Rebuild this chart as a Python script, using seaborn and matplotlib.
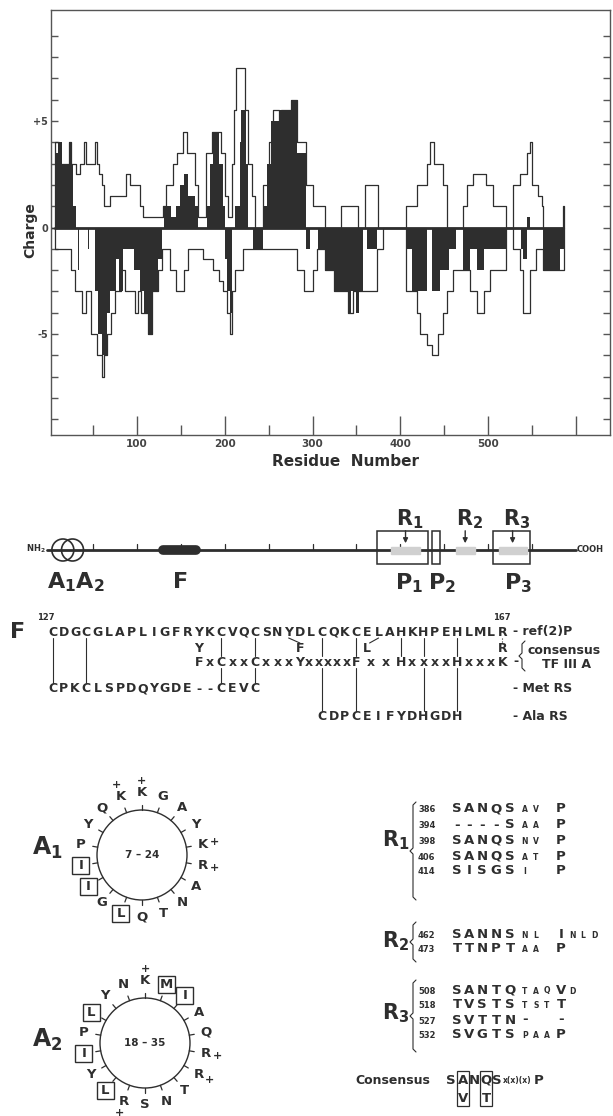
import numpy as np
import matplotlib
matplotlib.use("Agg")
import matplotlib.pyplot as plt
import seaborn as sns
from matplotlib.patches import Rectangle, Ellipse, Circle

sns.set_style("white")
plt.rcParams['font.family'] = ['DejaVu Sans']
plt.rcParams['mathtext.fontset'] = 'dejavusans'

INK = '#2e2e2e'

# charge profile: residue where each step starts, value of the step
pos_res = [0, 7, 11, 23, 25, 31, 35, 40, 42, 52, 54, 57, 60, 62, 69, 88, 92, 103, 107, 130,
           133, 141, 146, 152, 157, 166, 170, 179, 185, 196, 200, 204, 208, 211, 213, 223, 227, 231, 234, 244,
           250, 255, 262, 264, 276, 282, 293, 301, 314, 333, 352, 360, 375, 407, 419, 430, 434, 438, 449, 453,
           472, 476, 483, 498, 506, 521, 529, 536, 544, 548, 550, 557, 561, 563, 585, 587]
pos_val = [0, 4, 3, 4, 3, 2.5, 3, 4, 3, 4, 3, 2.5, 2, 1, 1.5, 2.5, 2, 1, 0.5, 1,
           2, 3, 3.5, 4.5, 3.5, 2, 0.5, 3.5, 4.5, 3.5, 1.5, 0.5, 3, 5.5, 7.5, 5.5, 3, 1.5, 0, 2,
           4, 5.5, 5, 5.5, 6, 4, 2, 1, 0, 1, 0, 2, 0, 1, 2, 3, 4, 3, 2, 0,
           1, 2, 2.5, 2, 1, 0, 2, 2.5, 3.5, 4, 2, 1.5, 1, 0, 1, 0]

neg_res = [0, 7, 25, 29, 37, 42, 48, 54, 60, 62, 66, 70, 75, 82, 86, 98, 101, 104, 113, 117,
           124, 128, 138, 145, 154, 158, 175, 187, 194, 198, 202, 206, 208, 212, 221, 282, 290, 301, 305, 314,
           324, 341, 346, 358, 373, 380, 407, 419, 422, 430, 436, 443, 449, 453, 460, 480, 487, 495, 502, 521,
           529, 536, 540, 548, 555, 563, 587]
neg_val = [0, -1, -2, -3, -4, -3, -5, -6, -7, -6, -5, -4, -3, -2, -3, -4, -3, -4, -5, -3,
           -2, -1, -2, -3, -2, -1, -1.5, -2, -2.5, -3, -4, -5, -3, -2, -1, -2, -3, -2, -1, -2,
           -3, -4, -3, -3, -1, 0, -3, -4, -5, -5.5, -6, -5, -4, -3, -2, -3, -4, -3, -2, 0,
           -1, -2, -4, -2, -1, -2, 0]

net_res = [0, 7, 10, 14, 23, 25, 27, 31, 33, 34, 44, 45, 52, 56, 60, 62, 64, 66, 69, 76,
           80, 84, 97, 103, 108, 112, 118, 124, 128, 131, 139, 145, 149, 154, 158, 166, 170, 180, 183, 187,
           194, 198, 200, 203, 206, 208, 212, 217, 219, 224, 227, 232, 244, 248, 253, 262, 276, 282, 293, 297,
           306, 314, 324, 335, 340, 344, 349, 353, 358, 362, 373, 407, 413, 430, 436, 445, 455, 464, 472, 480,
           487, 495, 521, 538, 540, 544, 548, 563, 582, 587]
net_val = [0, 3.5, 4, 3, 4, 3, 1, 0, -2, 0, -1, 0, -3, -5, -6, -7, -6, -4, -3, -1.5,
           -3, -1, -2, -3, -4, -5, -3, -1.5, 0, 1, 0.5, 1, 2, 2.5, 1.5, 1, 0, 1, 3, 4.5,
           3, 1, -1.5, -3, -4, 0, 1, 4, 5.5, 3, 0, -1, 1, 3, 5, 5.5, 6, 3.5, -1, 0,
           -1, -2, -3, -3, -4, -3, -4, -3, 0, -1, 0, -1, -3, 0, -3, -2, -1, 0, -2, -1,
           -2, -1, 0, -1, -1.5, 0.5, 0, -2, -1, 0]

# domain map of the protein
helix_start = [7, 18]
helix_end = [24, 35]
finger_start = [127]
finger_end = [167]
box_labels = [r'$\mathbf{P_1}$', r'$\mathbf{P_2}$', r'$\mathbf{P_3}$']
box_start = [374, 436, 506]
box_end = [432, 445, 548]
rep_labels = [r'$\mathbf{R_1}$', r'$\mathbf{R_2}$', r'$\mathbf{R_3}$']
rep_start = [390, 463, 512]
rep_end = [422, 485, 544]
protein_len = 600

# finger alignment
ref_seq = 'CDGCGLAPLIGFRYKCVQCSNYDLCQKCELAHKHPEHLMLR'
cons_seq = 'FxCxxCxxxYxxxxxFxxHxxxxHxxxK'
alt_cols = [13, 22, 28, 40]
alt_letters = ['Y', 'F', 'L', 'R']
met_seq = 'CPKCLSPDQYGDE--CEVC'
ala_seq = 'CDPCEIFYDHGDH'
ala_col0 = 24

# helical wheels
a1_seq = list('KGAYKRANTQLGIIPYQK')
a1_charged = [0, 4, 5, 17]
a1_boxed = [10, 12, 13]
a2_seq = list('KMIAQRRTNSRLYIPLYN')
a2_charged = [0, 5, 6, 10]
a2_boxed = [1, 2, 11, 13, 15]

# repeats
r_start = [386, 394, 398, 406, 414, 462, 473, 508, 518, 527, 532]
r_core = ['SANQS', '----S', 'SANQS', 'SANQS', 'SISGS', 'SANNS', 'TTNPT', 'SANTQ', 'TVSTS', 'SVTTN', 'SVGTS']
r_tail = ['av P', 'aa P', 'nv P', 'at P', 'i  P', 'nl Inld', 'aa P', 'taqVd', 'tstT', '-  -', 'paaP']
cons_top = ['S', 'A', 'N', 'Q', 'S']
cons_alt = ['', 'V', '', 'T', '']

W, H = 613, 1116
fig = plt.figure(figsize=(W / 100, H / 100), dpi=100)


def px_axes(l, t, r, b):
    return fig.add_axes([l / W, 1 - b / H, (r - l) / W, (b - t) / H])


# ---------- charge plot ----------
ax = px_axes(51, 10, 610, 435)
ax.fill_between(net_res, net_val, 0, step='post', color=INK, lw=0)
sns.lineplot(x=pos_res, y=pos_val, drawstyle='steps-post', estimator=None, sort=False,
             color=INK, lw=0.9, ax=ax)
sns.lineplot(x=neg_res, y=neg_val, drawstyle='steps-post', estimator=None, sort=False,
             color=INK, lw=0.9, ax=ax)
ax.hlines(0, 5, 587, color=INK, lw=2)
ax.set_xlim(2, 639)
ax.set_ylim(-9.73, 10.2)
ax.set_xlabel('')
ax.set_ylabel('')
ax.set_xticks([100, 200, 300, 400, 500, 600])
ax.set_xticklabels(['100', '200', '300', '400', '500', ''])
ax.set_xticks(range(50, 600, 100), minor=True)
ax.set_yticks(range(-9, 10))
ax.set_yticklabels(['+5' if v == 5 else '0' if v == 0 else '-5' if v == -5 else '' for v in range(-9, 10)])
ax.tick_params(axis='x', which='major', direction='in', length=14, width=1, color='#555',
               bottom=True, top=False, labelsize=7.5, labelcolor='#444', pad=3)
ax.tick_params(axis='x', which='minor', direction='in', length=7, width=1, color='#555', bottom=True)
ax.tick_params(axis='y', direction='in', length=5, width=1, color='#555', left=True, right=True,
               labelsize=7, labelcolor='#444', pad=2)
for lab in ax.get_xticklabels() + ax.get_yticklabels():
    lab.set_fontweight('bold')
for s in ax.spines.values():
    s.set_color('#555')
    s.set_linewidth(1)

# ---------- overlay in pixel units ----------
ax_t = fig.add_axes([0, 0, 1, 1], zorder=5)
ax_t.set_xlim(0, W)
ax_t.set_ylim(H, 0)
ax_t.set_facecolor('none')
ax_t.axis('off')


def txt(x, y, s, size=10, ha='center', va='center', **kw):
    ax_t.text(x, y, s, fontsize=size, fontweight='bold', ha=ha, va=va, color=INK, **kw)


txt(30, 230, 'Charge', size=10, rotation=90)
txt(345, 462, 'Residue  Number', size=11)

# ---------- domain map ----------
ax_d = px_axes(51, 500, 610, 600)
ax_d.set_xlim(2, 639)
ax_d.set_ylim(600, 500)
ax_d.axis('off')
ax_d.plot([-3, protein_len], [550, 550], color=INK, lw=2, clip_on=False)
for t in range(50, protein_len, 50):
    ax_d.plot([t, t], [544, 550], color=INK, lw=0.9)
for s, e in zip(helix_start, helix_end):
    ax_d.add_patch(Ellipse(((s + e) / 2, 550), 22 / 0.8776, 22, fill=False, ec=INK, lw=1.2, clip_on=False))
for s, e in zip(finger_start, finger_end):
    ax_d.plot([s + 3, e], [550, 550], color=INK, lw=7, solid_capstyle='round')
for s, e in zip(rep_start, rep_end):
    ax_d.add_patch(Rectangle((s, 546.5), e - s, 7, color='#d0d0d0', zorder=3))
for s, e in zip(box_start, box_end):
    ax_d.add_patch(Rectangle((s, 531), e - s, 33, fill=False, ec=INK, lw=1.1, zorder=4))
for lab, s, e in zip(rep_labels, rep_start, rep_end):
    m = (s + e) / 2
    ax_d.annotate('', xy=(m, 546), xytext=(m, 528),
                  arrowprops=dict(arrowstyle='-|>', color=INK, lw=1, mutation_scale=7))
    ax_d.text(m + 5, 519, lab, fontsize=15, ha='center', va='center', color=INK)
for lab, s, e in zip(box_labels, box_start, box_end):
    ax_d.text((s + e) / 2 + 7, 583, lab, fontsize=16, ha='center', va='center', color=INK)
ax_d.text(30, 582, r'$\mathbf{A_1A_2}$', fontsize=16, ha='center', va='center', color=INK)
ax_d.text(150, 582, 'F', fontsize=16, fontweight='bold', ha='center', va='center', color=INK)
ax_d.text(-4, 549, r'$\mathbf{NH_2}$', fontsize=6, ha='right', va='center', color=INK, clip_on=False)
ax_d.text(protein_len + 1, 550, 'COOH', fontsize=6, fontweight='bold', ha='left', va='center',
          color=INK, clip_on=False)

# ---------- finger alignment ----------
def col_x(c):
    return 52.6 + c * 11.24


y_ref, y_alt, y_cons, y_met, y_ala = 632, 648, 662, 689, 717
txt(18, 632, 'F', size=16)
txt(46, 618, '127', size=6)
txt(col_x(40), 618, '167', size=6)
for i, ch in enumerate(ref_seq):
    txt(col_x(i), y_ref, ch, size=9)
for c, ch in zip(alt_cols, alt_letters):
    txt(col_x(c), y_alt, ch, size=9)
big_idx = [i for i, ch in enumerate(cons_seq) if ch != 'x']
big_col = [13, 15, 18, 22, 27, 31, 36, 40]
cons_cols = np.interp(range(len(cons_seq)), big_idx, big_col)
for ch, c in zip(cons_seq, cons_cols):
    txt(col_x(c), y_cons + (1 if ch == 'x' else 0), ch, size=9)
for i, ch in enumerate(met_seq):
    txt(col_x(i), y_met, ch, size=9)
for i, ch in enumerate(ala_seq):
    txt(col_x(ala_col0 + i), y_ala, ch, size=9)


def vline(c, y0, y1, **kw):
    ax_t.plot([col_x(c), col_x(c)], [y0, y1], color=INK, lw=0.8, **kw)


for c in [0, 3]:
    vline(c, 638, 683)
for c in [15, 18]:
    vline(c, 638, 656)
    vline(c, 668, 683)
for c in [24, 27, 33, 36]:
    vline(c, 638, 656)
    vline(c, 668, 711)
vline(31, 638, 656)
vline(40, 638, 643, ls=':')
ax_t.plot([col_x(21), col_x(22)], [638, 643], color=INK, lw=0.8)
ax_t.plot([col_x(29), col_x(28.2)], [638, 643], color=INK, lw=0.8)


def brace(x, y0, y1, w=3):
    ym = (y0 + y1) / 2
    ax_t.plot([x + w, x, x, x - w, x, x, x + w],
              [y0, y0 + w, ym - w, ym, ym + w, y1 - w, y1], color=INK, lw=0.8)


txt(513, y_ref, '- ref(2)P', size=9, ha='left')
txt(513, y_cons, '-', size=9, ha='left')
brace(522, 641, 671, w=3)
txt(527, 650, 'consensus', size=9, ha='left')
txt(542, 665, 'TF III A', size=9, ha='left')
txt(513, y_met, '- Met RS', size=9, ha='left')
txt(513, y_ala, '- Ala RS', size=9, ha='left')


# ---------- helical wheels ----------
def wheel(cx, cy, seq, charged, boxed, name, span, name_y):
    r = 45
    ax_t.add_patch(Circle((cx, cy), r, fill=False, ec=INK, lw=1))
    for i, aa in enumerate(seq):
        ang = np.deg2rad(90 - 20 * i)
        dx, dy = np.cos(ang), -np.sin(ang)
        ax_t.plot([cx + r * dx, cx + (r + 5) * dx], [cy + r * dy, cy + (r + 5) * dy], color=INK, lw=0.9)
        tx, ty = cx + 62 * dx, cy + 62 * dy
        txt(tx, ty, aa, size=9.5)
        if i in boxed:
            ax_t.add_patch(Rectangle((tx - 8.5, ty - 8.5), 17, 17, fill=False, ec=INK, lw=1))
        if i in charged:
            txt(cx + 74 * dx, cy + 74 * dy, '+', size=8)
    txt(cx, cy, span, size=7.5)
    ax_t.text(32, name_y, name, fontsize=17, ha='left', va='center', color=INK)


wheel(142, 855, a1_seq, a1_charged, a1_boxed, r'$\mathbf{A_1}$', '7 – 24', 848)
wheel(145, 1043, a2_seq, a2_charged, a2_boxed, r'$\mathbf{A_2}$', '18 – 35', 1040)

# ---------- repeats ----------
row_y = [809, 825, 840, 856, 871, 934, 949, 990, 1005, 1020, 1035]
core_x = [457, 469, 482, 496, 510]
tail_x = [525, 536, 547, 561, 572, 583, 594]
for start, core, tail, y in zip(r_start, r_core, r_tail, row_y):
    txt(418, y + 1, str(start), size=6, ha='left')
    for ch, x in zip(core, core_x):
        txt(x, y, ch, size=9.5)
    for ch, x in zip(tail, tail_x):
        if ch == ' ':
            continue
        if ch.islower():
            txt(x, y + 1, ch.upper(), size=5.5)
        else:
            txt(x, y, ch, size=9.5)
for lab, y, y0, y1 in zip(rep_labels, [840, 941, 1013], [802, 922, 980], [900, 962, 1052]):
    ax_t.text(396, y, lab, fontsize=15, ha='center', va='center', color=INK)
    brace(413, y0, y1, w=3)

txt(355, 1080, 'Consensus', size=9, ha='left')
cons_x = [451, 463, 474.5, 486, 497]
for ch, alt, x in zip(cons_top, cons_alt, cons_x):
    txt(x, 1080, ch, size=9.5)
    if alt:
        txt(x, 1098, alt, size=9.5)
        ax_t.add_patch(Rectangle((x - 6, 1071), 12, 35, fill=False, ec=INK, lw=0.9))
txt(503, 1081, 'x(x)(x)', size=5.5, ha='left')
txt(539, 1080, 'P', size=9.5)

fig.savefig('out.png', dpi=100)
